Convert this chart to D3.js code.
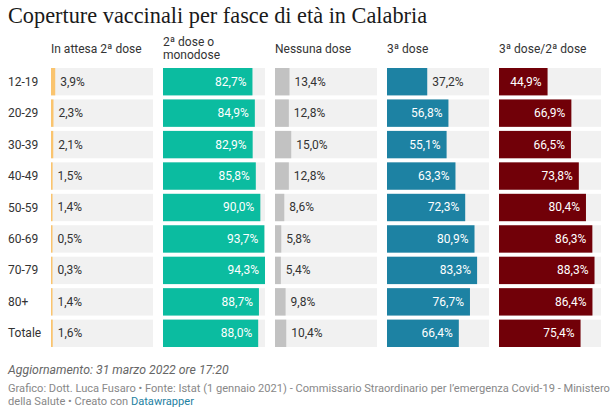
<!DOCTYPE html>
<html>
<head>
<meta charset="utf-8">
<script src="https://cdn.jsdelivr.net/npm/d3@7"></script>
<style>
  body { margin: 0; background: #fff; }
  svg { display: block; font-family: Roboto, sans-serif; }
</style>
</head>
<body>
<svg id="chart"></svg>
<script>
// Data
const ageGroups = ["12-19", "20-29", "30-39", "40-49", "50-59", "60-69", "70-79", "80+", "Totale"];
const inAttesa = [3.9, 2.3, 2.1, 1.5, 1.4, 0.5, 0.3, 1.4, 1.6];
const secondaDose = [82.7, 84.9, 82.9, 85.8, 90.0, 93.7, 94.3, 88.7, 88.0];
const nessunaDose = [13.4, 12.8, 15.0, 12.8, 8.6, 5.8, 5.4, 9.8, 10.4];
const terzaDose = [37.2, 56.8, 55.1, 63.3, 72.3, 80.9, 83.3, 76.7, 66.4];
const terzaSuSeconda = [44.9, 66.9, 66.5, 73.8, 80.4, 86.3, 88.3, 86.4, 75.4];

const columns = [
  { title: ["In attesa 2ª dose"], values: inAttesa, color: "#fac46e" },
  { title: ["2ª dose o", "monodose"], values: secondaDose, color: "#0bbca0" },
  { title: ["Nessuna dose"], values: nessunaDose, color: "#c2c2c2" },
  { title: ["3ª dose"], values: terzaDose, color: "#1d82a3" },
  { title: ["3ª dose/2ª dose"], values: terzaSuSeconda, color: "#710008" },
];

const W = 610, H = 410;
const svg = d3.select("#chart").attr("width", W).attr("height", H);

// Title
svg.append("text")
  .attr("x", 8).attr("y", 23)
  .attr("font-family", "'Liberation Serif', serif")
  .attr("font-size", 22.3)
  .attr("fill", "#1a1a1a")
  .text("Coperture vaccinali per fasce di età in Calabria");

// Layout
const colX0 = 51, colStep = 112, colW = 102;
const rowTop = 68, rowStep = 31, rowH = 27;

// shared scale across all columns
const maxVal = d3.max(columns.flatMap((c) => c.values));
const x = d3.scaleLinear().domain([0, maxVal]).range([0, colW]);
const y = d3.scaleBand()
  .domain(ageGroups)
  .range([rowTop, rowTop + rowStep * ageGroups.length])
  .paddingInner(1 - rowH / rowStep)
  .paddingOuter(0)
  .align(0);

// Row labels
svg.append("g").selectAll("text")
  .data(ageGroups)
  .join("text")
  .attr("x", 8)
  .attr("y", (d) => y(d) + y.bandwidth() / 2 + 4)
  .attr("font-size", 12)
  .attr("fill", "#333")
  .text((d) => d);

columns.forEach((col, ci) => {
  const cx = colX0 + ci * colStep;
  const g = svg.append("g").attr("transform", `translate(${cx},0)`);

  // header
  const hy = col.title.length > 1 ? 46 : 53;
  col.title.forEach((t, li) => {
    g.append("text")
      .attr("x", 0)
      .attr("y", hy + li * 13)
      .attr("font-size", 12)
      .attr("fill", "#333")
      .text(t);
  });

  const rows = g.selectAll("g.row")
    .data(col.values.map((v, i) => ({ v, cat: ageGroups[i] })))
    .join("g")
    .attr("class", "row")
    .attr("transform", (d) => `translate(0,${y(d.cat)})`);

  rows.append("rect")
    .attr("width", colW)
    .attr("height", y.bandwidth())
    .attr("fill", "#f1f1f1");

  rows.append("rect")
    .attr("width", (d) => Math.max(x(d.v), 1.5))
    .attr("height", y.bandwidth())
    .attr("fill", col.color);

  rows.append("text")
    .attr("y", y.bandwidth() / 2 + 4)
    .attr("font-size", 12)
    .each(function (d) {
      const w = x(d.v);
      const inside = w > 44;
      d3.select(this)
        .attr("x", inside ? w - 6 : Math.max(w, 1.5) + 5)
        .attr("text-anchor", inside ? "end" : "start")
        .attr("fill", inside ? "#fff" : "#333");
    })
    .text((d) => d.v.toFixed(1).replace(".", ",") + "%");
});

// Footer
svg.append("text")
  .attr("x", 8).attr("y", 374)
  .attr("font-size", 12.3)
  .attr("font-style", "italic")
  .attr("fill", "#666")
  .text("Aggiornamento: 31 marzo 2022 ore 17:20");

svg.append("text")
  .attr("x", 8).attr("y", 392)
  .attr("font-size", 11.1)
  .attr("fill", "#888")
  .text("Grafico: Dott. Luca Fusaro • Fonte: Istat (1 gennaio 2021) - Commissario Straordinario per l’emergenza Covid-19 - Ministero");

const last = svg.append("text")
  .attr("x", 8).attr("y", 405)
  .attr("font-size", 11.1)
  .attr("fill", "#888");
last.append("tspan").text("della Salute • Creato con ");
last.append("tspan").attr("fill", "#1d81a2").text("Datawrapper");
</script>
</body>
</html>
